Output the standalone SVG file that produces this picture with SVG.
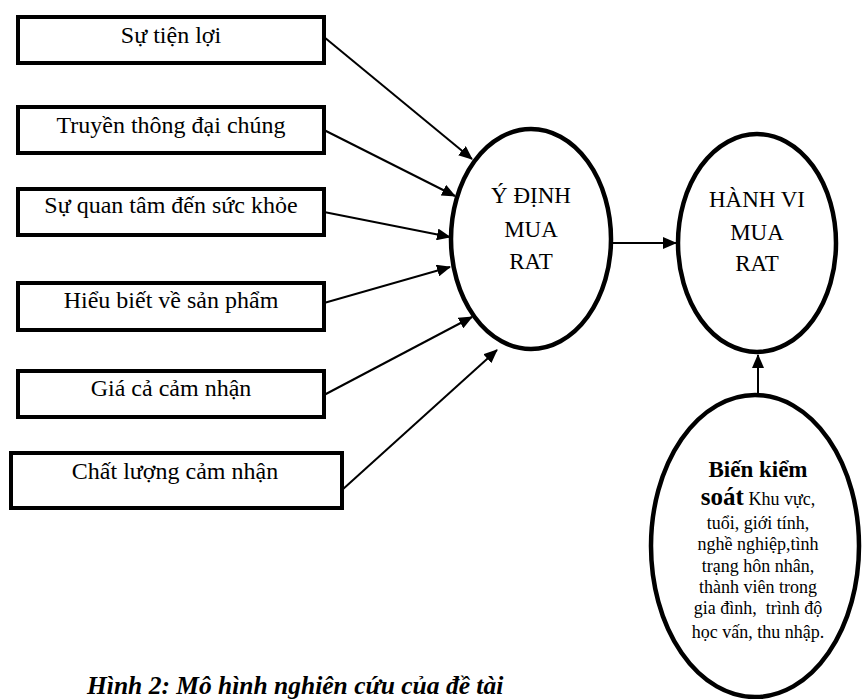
<svg xmlns="http://www.w3.org/2000/svg" width="862" height="699" viewBox="0 0 862 699">
  <style>
    .box { fill: #fff; stroke: #000; stroke-width: 4; }
    .oval { fill: #fff; stroke: #000; stroke-width: 4.5; }
    .serif { font-family: "Liberation Serif", "Times New Roman", serif; fill: #000; }
    .lbl { font-size: 24px; text-anchor: middle; }
    .big { font-size: 23px; text-anchor: middle; }
    .small { font-size: 18px; text-anchor: middle; }
    .conn line { stroke: #000; stroke-width: 2; marker-end: url(#arrow); }
  </style>
  <defs>
    <marker id="arrow" markerWidth="7" markerHeight="6" refX="6.5" refY="3" orient="auto" markerUnits="strokeWidth">
      <path d="M0,0 L7,3 L0,6 Z" fill="#000"/>
    </marker>
  </defs>

  <rect width="862" height="699" fill="#fff"/>

  <!-- connectors -->
  <g id="connectors" class="conn">
    <line x1="324" y1="37" x2="472" y2="159"/>
    <line x1="324" y1="130" x2="455" y2="196"/>
    <line x1="324" y1="212" x2="450" y2="237"/>
    <line x1="324" y1="303" x2="450" y2="267"/>
    <line x1="324" y1="395" x2="472" y2="317"/>
    <line x1="342" y1="490" x2="497" y2="350"/>
    <line x1="613" y1="243" x2="676" y2="243"/>
    <line x1="758" y1="394" x2="758" y2="355"/>
  </g>

  <!-- factor boxes -->
  <g id="n-tien-loi" class="serif">
    <rect class="box" x="18" y="17" width="306" height="46"/>
    <text class="lbl" x="171" y="43">Sự tiện lợi</text>
  </g>
  <g id="n-truyen-thong" class="serif">
    <rect class="box" x="18" y="107" width="306" height="46"/>
    <text class="lbl" x="171" y="133">Truyền thông đại chúng</text>
  </g>
  <g id="n-suc-khoe" class="serif">
    <rect class="box" x="18" y="189" width="306" height="46"/>
    <text class="lbl" x="171" y="213">Sự quan tâm đến sức khỏe</text>
  </g>
  <g id="n-hieu-biet" class="serif">
    <rect class="box" x="18" y="283" width="306" height="47"/>
    <text class="lbl" x="171" y="308">Hiểu biết về sản phẩm</text>
  </g>
  <g id="n-gia-ca" class="serif">
    <rect class="box" x="18" y="371" width="306" height="46"/>
    <text class="lbl" x="171" y="396">Giá cả cảm nhận</text>
  </g>
  <g id="n-chat-luong" class="serif">
    <rect class="box" x="11" y="453" width="331" height="55"/>
    <text class="lbl" x="175" y="479">Chất lượng cảm nhận</text>
  </g>

  <!-- intention -->
  <g id="n-y-dinh" class="serif">
    <ellipse class="oval" cx="531" cy="239" rx="80" ry="110"/>
    <text class="big" x="531" y="203">Ý ĐỊNH</text>
    <text class="big" x="531" y="237">MUA</text>
    <text class="big" x="531" y="269">RAT</text>
  </g>

  <!-- behaviour -->
  <g id="n-hanh-vi" class="serif">
    <ellipse class="oval" cx="757" cy="243" rx="79" ry="109"/>
    <text class="big" x="757" y="207">HÀNH VI</text>
    <text class="big" x="757" y="240">MUA</text>
    <text class="big" x="757" y="271">RAT</text>
  </g>

  <!-- control variables -->
  <g id="n-bien-kiem-soat" class="serif">
    <ellipse class="oval" cx="755" cy="546" rx="104" ry="151"/>
    <text class="big" x="758" y="477" font-size="24" font-weight="bold">Biến kiểm</text>
    <text class="small" x="758" y="505"><tspan font-size="25" font-weight="bold">soát</tspan> Khu vực,</text>
    <text class="small" x="758" y="529">tuổi, giới tính,</text>
    <text class="small" x="758" y="550">nghề nghiệp,tình</text>
    <text class="small" x="758" y="572">trạng hôn nhân,</text>
    <text class="small" x="758" y="593">thành viên trong</text>
    <text class="small" x="758" y="614" xml:space="preserve">gia đình,  trình độ</text>
    <text class="small" x="758" y="638">học vấn, thu nhập.</text>
  </g>

  <!-- caption -->
  <text class="serif" x="87" y="694" font-size="25.5" font-weight="bold" font-style="italic">Hình 2: Mô hình nghiên cứu của đề tài</text>
</svg>
